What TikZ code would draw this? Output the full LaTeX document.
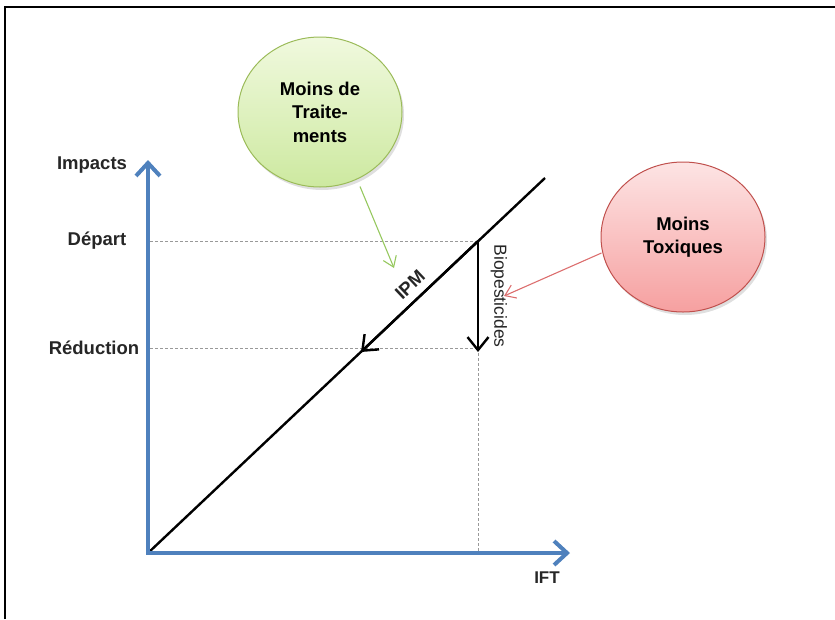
\documentclass[tikz,border=0pt]{standalone}
\usepackage{fontspec}
\setmainfont{Liberation Sans}
\usetikzlibrary{arrows.meta,shapes.geometric,shadows}
\definecolor{axisblue}{RGB}{79,129,189}
\definecolor{gborder}{RGB}{155,187,89}
\definecolor{gtop}{RGB}{240,249,222}
\definecolor{gbot}{RGB}{205,233,160}
\definecolor{rborder}{RGB}{192,80,77}
\definecolor{rtop}{RGB}{253,228,228}
\definecolor{rbot}{RGB}{246,160,160}
\definecolor{garrow}{RGB}{150,200,95}
\definecolor{rarrow}{RGB}{220,110,110}
\tikzset{
  axisline/.style={draw=axisblue, line width=4pt, -{Straight Barb[length=13pt,width=24pt]}},
  mainline/.style={draw=black, line width=2.4pt},
  blackarrow/.style={draw=black, line width=2.4pt, -{Straight Barb[length=13pt,width=21pt]}},
  guide/.style={draw=gray!80, line width=0.7pt, dash pattern=on 3pt off 2pt},
  lbl/.style={font=\fontsize{18.5}{22}\selectfont\bfseries, text=black!85, inner sep=0pt},
  bubble/.style={ellipse, minimum width=164pt, minimum height=150pt, inner sep=0pt,
     align=center, line width=1pt, font=\fontsize{18.5}{23.5}\selectfont\bfseries,
     drop shadow={opacity=0.25, shadow xshift=2pt, shadow yshift=-3pt}},
  thinarrow/.style={line width=1.1pt, -{Straight Barb[length=10pt,width=14pt]}}
}
\begin{document}
\begin{tikzpicture}[x=1pt,y=-1pt]
\useasboundingbox (0,0) rectangle (835,619);
% frame
\draw[line width=1.3pt] (5,619) -- (5,7) -- (835,7);
% coordinates
\coordinate (O) at (148,553);
\coordinate (Ytip) at (148,160);
\coordinate (Xtip) at (570,553);
\coordinate (Dend) at (545,178);
\coordinate (D) at (478,241);
\coordinate (Bend) at (478,352);
\coordinate (Ipmend) at (361,352);
\coordinate (DL) at (150,241);
\coordinate (RL) at (150,348);
\coordinate (RR) at (478,348);
\coordinate (XB) at (478,553);
% guides
\draw[guide] (DL) -- (D);
\draw[guide] (RL) -- (RR);
\draw[guide] (RR) -- (XB);
% diagonal
\draw[mainline] (O) -- (Dend);
\draw[blackarrow] (D) -- (Ipmend);
\draw[blackarrow] (D) -- (Bend);
% axes
\draw[axisline] (O) -- (Ytip);
\draw[axisline] ([xshift=-2pt]O) -- (Xtip);
% labels
\node[lbl] (impacts) at (92,165) {Impacts};
\node[lbl] (depart) at (97,241) {Départ};
\node[lbl] (reduction) at (94,348) {Réduction};
\node[lbl, font=\fontsize{17}{20}\selectfont\bfseries] (ift) at (547,578) {IFT};
\node[lbl, rotate=43.4] (ipm) at (410,285) {IPM};
\node[lbl, font=\fontsize{17.5}{20}\selectfont, rotate=-90] (bio) at (499,296) {Biopesticides};
% bubbles
\node[bubble, draw=gborder, top color=gtop, bottom color=gbot] (green) at (320,112) {Moins de\\Traite-\\ments};
\node[bubble, draw=rborder, top color=rtop, bottom color=rbot] (red) at (683,237) {Moins\\Toxiques};
\coordinate (gend) at (394,268);
\coordinate (rend) at (504,296);
\draw[thinarrow, draw=garrow] (green.south) ++(40,-1) coordinate (gs) -- (gend);
\draw[thinarrow, draw=rarrow] (red.west) ++(1,16) coordinate (rs) -- (rend);
\end{tikzpicture}
\end{document}
